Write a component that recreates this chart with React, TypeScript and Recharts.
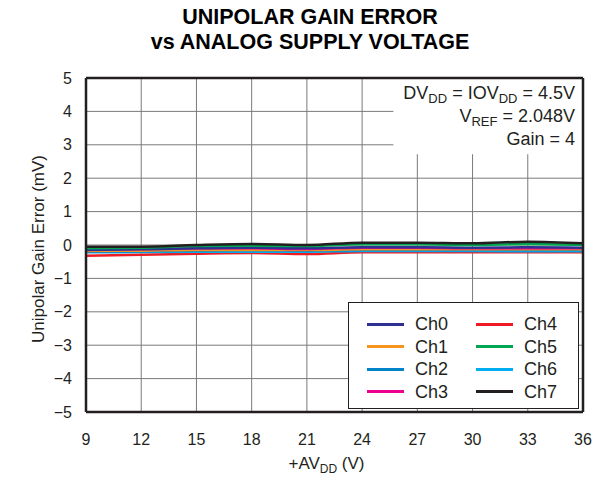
import React from 'react';
import {
  LineChart,
  Line,
  XAxis,
  YAxis,
  CartesianGrid,
  ReferenceLine,
  ReferenceArea,
  Legend,
} from 'recharts';

// ---- data ----
const supplyVoltage = [9, 12, 15, 18, 21, 24, 27, 30, 33, 36];
const ch0 = [-0.15, -0.13, -0.1, -0.08, -0.1, -0.07, -0.07, -0.08, -0.07, -0.08];
const ch1 = [-0.18, -0.17, -0.15, -0.15, -0.15, -0.13, -0.13, -0.13, -0.13, -0.13];
const ch2 = [-0.2, -0.19, -0.17, -0.16, -0.17, -0.15, -0.15, -0.15, -0.15, -0.15];
const ch3 = [-0.13, -0.12, -0.1, -0.1, -0.12, -0.08, -0.08, -0.1, -0.1, -0.1];
const ch4 = [-0.32, -0.29, -0.26, -0.24, -0.27, -0.22, -0.22, -0.22, -0.22, -0.22];
const ch5 = [-0.1, -0.08, -0.03, -0.02, -0.03, 0.02, 0.02, 0.0, 0.03, 0.0];
const ch6 = [-0.22, -0.21, -0.2, -0.2, -0.2, -0.18, -0.18, -0.18, -0.19, -0.19];
const ch7 = [-0.05, -0.05, 0.0, 0.03, 0.0, 0.07, 0.07, 0.05, 0.1, 0.05];

const xTicks = [9, 12, 15, 18, 21, 24, 27, 30, 33, 36];
const yTicks = [-5, -4, -3, -2, -1, 0, 1, 2, 3, 4, 5];

const channelNames = ['Ch0', 'Ch1', 'Ch2', 'Ch3', 'Ch4', 'Ch5', 'Ch6', 'Ch7'];
const channelValues = [ch0, ch1, ch2, ch3, ch4, ch5, ch6, ch7];
const channelColors: Record<string, string> = {
  Ch0: '#2e3192',
  Ch1: '#f7941d',
  Ch2: '#0083c9',
  Ch3: '#ec008c',
  Ch4: '#ed1c24',
  Ch5: '#00a651',
  Ch6: '#00aeef',
  Ch7: '#231f20',
};
// drawing order (last on top)
const drawOrder = ['Ch4', 'Ch6', 'Ch2', 'Ch1', 'Ch3', 'Ch0', 'Ch5', 'Ch7'];

const data = supplyVoltage.map((v, i) => {
  const row: Record<string, number> = { v };
  channelNames.forEach((n, k) => {
    row[n] = channelValues[k][i];
  });
  return row;
});

const FONT = '"Liberation Sans", Arial, Helvetica, sans-serif';
const INK = '#231f20';

const fmtY = (t: number) => (t < 0 ? '\u2212' + Math.abs(t) : String(t));

const AnnotLabel = (props: any) => {
  const vb = props.viewBox || {};
  const right = vb.x + vb.width - 8;
  const top = vb.y;
  return (
    <g fontFamily={FONT} fill={INK} fontSize={18}>
      <text x={right} y={top + 21} textAnchor="end">
        <tspan>DV</tspan>
        <tspan fontSize={13} dy={4}>DD</tspan>
        <tspan dy={-4}> = IOV</tspan>
        <tspan fontSize={13} dy={4}>DD</tspan>
        <tspan dy={-4}> = 4.5V</tspan>
      </text>
      <text x={right} y={top + 44} textAnchor="end">
        <tspan>V</tspan>
        <tspan fontSize={13} dy={4}>REF</tspan>
        <tspan dy={-4}> = 2.048V</tspan>
      </text>
      <text x={right} y={top + 67} textAnchor="end">
        Gain = 4
      </text>
    </g>
  );
};

const YLabel = (props: any) => {
  const vb = props.viewBox || {};
  const cx = vb.x + 12;
  const cy = vb.y + vb.height / 2 + 4;
  return (
    <text
      x={cx}
      y={cy}
      transform={`rotate(-90 ${cx} ${cy})`}
      textAnchor="middle"
      dominantBaseline="central"
      fontFamily={FONT}
      fontSize={17}
      fill={INK}
    >
      Unipolar Gain Error (mV)
    </text>
  );
};

const XLabel = (props: any) => {
  const vb = props.viewBox || {};
  const cx = vb.x + vb.width / 2 - 8;
  const by = vb.y + 57;
  return (
    <text x={cx} y={by} textAnchor="middle" fontFamily={FONT} fontSize={17} fill={INK}>
      <tspan>+AV</tspan>
      <tspan fontSize={12} dy={4}>DD</tspan>
      <tspan dy={-4}> (V)</tspan>
    </text>
  );
};

const legendColumns = [
  ['Ch0', 'Ch1', 'Ch2', 'Ch3'],
  ['Ch4', 'Ch5', 'Ch6', 'Ch7'],
];

const LegendBox = () => (
  <div
    style={{
      position: 'relative',
      width: 231,
      height: 107,
      boxSizing: 'border-box',
      border: `1.5px solid ${INK}`,
      background: '#fff',
      fontFamily: FONT,
      fontSize: 18,
      color: INK,
    }}
  >
    {legendColumns.map((col, ci) =>
      col.map((name, ri) => (
        <div
          key={name}
          style={{
            position: 'absolute',
            left: ci === 0 ? 18 : 127,
            top: 21 + ri * 22.6 - 11,
            height: 22,
            display: 'flex',
            alignItems: 'center',
          }}
        >
          <div style={{ width: 37, height: 3, background: channelColors[name] }} />
          <span style={{ marginLeft: 11, lineHeight: '22px' }}>{name}</span>
        </div>
      ))
    )}
  </div>
);

export default function App() {
  return (
    <div
      style={{
        position: 'absolute',
        left: 0,
        top: 0,
        width: 608,
        height: 478,
        background: '#fff',
        fontFamily: FONT,
      }}
    >
      <div
        style={{
          position: 'absolute',
          left: 6,
          top: 5,
          width: 608,
          textAlign: 'center',
          fontWeight: 'bold',
          fontSize: 21.5,
          lineHeight: '25px',
          color: '#000',
        }}
      >
        <div>UNIPOLAR GAIN ERROR</div>
        <div>vs ANALOG SUPPLY VOLTAGE</div>
      </div>
      <LineChart
        width={608}
        height={478}
        data={data}
        margin={{ top: 78, right: 25, bottom: 36, left: 26 }}
        style={{ position: 'absolute', left: 0, top: 0 }}
      >
        <CartesianGrid stroke="#7a7a7a" strokeWidth={1} vertical horizontal />
        <XAxis
          dataKey="v"
          type="number"
          domain={[9, 36]}
          ticks={xTicks}
          height={30}
          axisLine={false}
          tickLine={false}
          tickSize={0}
          tickMargin={22}
          tick={{ fill: INK, fontSize: 16, fontFamily: FONT }}
          label={XLabel}
        />
        <XAxis
          xAxisId="top"
          orientation="top"
          dataKey="v"
          type="number"
          domain={[9, 36]}
          ticks={xTicks}
          height={0}
          mirror
          axisLine={false}
          tick={false}
          tickSize={5}
          tickLine={{ stroke: INK, strokeWidth: 1 }}
        />
        <YAxis
          type="number"
          domain={[-5, 5]}
          ticks={yTicks}
          width={60}
          axisLine={false}
          tickLine={false}
          tickSize={0}
          tickMargin={14}
          tickFormatter={fmtY}
          tick={{ fill: INK, fontSize: 16, fontFamily: FONT }}
          label={YLabel}
        />
        <YAxis
          yAxisId="right"
          orientation="right"
          type="number"
          domain={[-5, 5]}
          ticks={yTicks}
          width={0}
          mirror
          axisLine={false}
          tick={false}
          tickSize={5}
          tickLine={{ stroke: INK, strokeWidth: 1 }}
        />
        <ReferenceArea
          x1={25.7}
          x2={36}
          y1={2.72}
          y2={5}
          fill="#fff"
          fillOpacity={1}
          stroke="none"
          label={AnnotLabel}
        />
        {drawOrder.map((name) => (
          <Line
            key={name}
            dataKey={name}
            name={name}
            stroke={channelColors[name]}
            strokeWidth={2.5}
            dot={false}
            type="monotone"
            isAnimationActive={false}
          />
        ))}
        <ReferenceLine x={9} stroke={INK} strokeWidth={2.5} />
        <ReferenceLine x={36} stroke={INK} strokeWidth={2.5} />
        <ReferenceLine y={5} stroke={INK} strokeWidth={2.5} />
        <ReferenceLine y={-5} stroke={INK} strokeWidth={2.5} />
        <Legend
          layout="vertical"
          align="center"
          verticalAlign="middle"
          content={LegendBox}
          wrapperStyle={{ position: 'absolute', left: 348, top: 302, width: 231, height: 107 }}
        />
      </LineChart>
    </div>
  );
}
